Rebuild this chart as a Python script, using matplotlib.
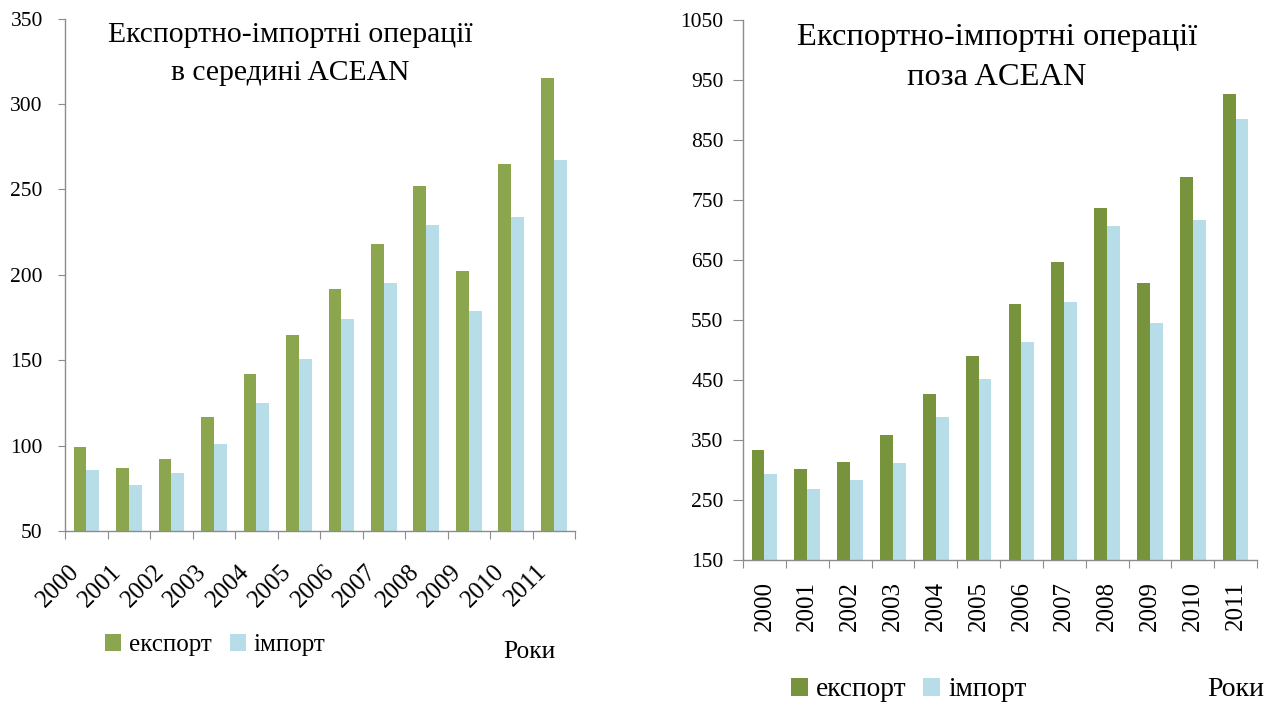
import matplotlib
matplotlib.use('Agg')
import matplotlib.pyplot as plt
from matplotlib.patches import Patch
import numpy as np

# ---- data ----
years = ['2000', '2001', '2002', '2003', '2004', '2005',
         '2006', '2007', '2008', '2009', '2010', '2011']
inside_export = [99, 87, 92, 117, 142, 165, 192, 218, 252, 202, 265, 315]
inside_import = [86, 77, 84, 101, 125, 151, 174, 195, 229, 179, 234, 267]
outside_export = [333, 301, 314, 358, 427, 490, 577, 647, 736, 612, 788, 927]
outside_import = [293, 269, 283, 311, 388, 452, 513, 580, 707, 545, 716, 885]
left_yticks = [50, 100, 150, 200, 250, 300, 350]
right_yticks = [150, 250, 350, 450, 550, 650, 750, 850, 950, 1050]
series_names = ['експорт', 'імпорт']
left_title = ['Експортно-імпортні операції', 'в середині ACEAN']
right_title = ['Експортно-імпортні операції', 'поза ACEAN']
axis_label = 'Роки'

FONT = 'Liberation Serif'
plt.rcParams['font.family'] = [FONT, 'DejaVu Serif']

W, H = 1269, 704
fig = plt.figure(figsize=(W / 100, H / 100), dpi=100)
fig.patch.set_facecolor('white')

IMPORT_C = '#B7DEE8'
SPINE_C = '#8C8C8C'


def px(x, y):
    return x / W, 1 - y / H


def make_axes(rect, exp, imp, ylim, yticks, exp_color, rot, xpad, ylpad, yticklen,
              fs_y, fs_x, lab_shift):
    ax = fig.add_axes(rect)
    x = np.arange(len(years))
    ax.bar(x - 0.15, exp, width=0.30, color=exp_color, zorder=2)
    ax.bar(x + 0.15, imp, width=0.30, color=IMPORT_C, zorder=2)
    ax.set_xlim(-0.5, len(years) - 0.5)
    ax.set_ylim(*ylim)
    ax.set_yticks(yticks)
    ax.set_yticklabels([str(v) for v in yticks], fontsize=fs_y)
    ax.set_xticks(np.arange(-0.5, len(years), 1.0))
    ax.set_xticklabels([])
    ax.set_xticks(x + lab_shift, minor=True)
    ax.set_xticklabels(years, minor=True, fontsize=fs_x)
    for s in ['top', 'right']:
        ax.spines[s].set_visible(False)
    for s in ['left', 'bottom']:
        ax.spines[s].set_color(SPINE_C)
        ax.spines[s].set_linewidth(1.0)
    ax.tick_params(axis='y', which='major', direction='out', length=yticklen,
                   color=SPINE_C, pad=ylpad, labelcolor='black')
    ax.tick_params(axis='x', which='major', direction='out', length=6, color=SPINE_C)
    ax.tick_params(axis='x', which='minor', length=0, pad=xpad)
    for lab in ax.get_xticklabels(minor=True):
        if rot == 45:
            lab.set_rotation(45)
            lab.set_ha('right')
            lab.set_va('center')
            lab.set_rotation_mode('anchor')
        else:
            lab.set_rotation(90)
            lab.set_ha('center')
            lab.set_va('top')
    return ax


# left chart
l0, b0 = px(65, 531)
l1, b1 = px(575, 18.7)
axL = make_axes([l0, b0, l1 - l0, b1 - b0], inside_export, inside_import,
                (50, 350), left_yticks, '#8BA64E', 45, 27, 11, 5, 15.5, 18, -0.25)

# right chart
r0, c0 = px(743, 560)
r1, c1 = px(1257, 20)
axR = make_axes([r0, c0, r1 - r0, c1 - c0], outside_export, outside_import,
                (150, 1050), right_yticks, '#77933C', 90, 15, 7, 7, 15.5, 18, 0.0)

# titles
fig.text(*px(290, 42), left_title[0], ha='center', va='baseline', fontsize=21.3)
fig.text(*px(290, 80), left_title[1], ha='center', va='baseline', fontsize=21.3)
fig.text(*px(997, 45), right_title[0], ha='center', va='baseline', fontsize=23.4)
fig.text(*px(997, 85), right_title[1], ha='center', va='baseline', fontsize=23.4)

# legends
handles_L = [Patch(facecolor='#8BA64E', label=series_names[0]),
             Patch(facecolor=IMPORT_C, label=series_names[1])]
handles_R = [Patch(facecolor='#77933C', label=series_names[0]),
             Patch(facecolor=IMPORT_C, label=series_names[1])]
fig.legend(handles=handles_L, loc='center left', bbox_to_anchor=px(105, 645),
           ncol=2, frameon=False, fontsize=18, handlelength=0.65, handleheight=0.65,
           handletextpad=0.3, columnspacing=0.72, borderpad=0, borderaxespad=0)
fig.legend(handles=handles_R, loc='center left', bbox_to_anchor=px(791, 690),
           ncol=2, frameon=False, fontsize=19.7, handlelength=0.62, handleheight=0.62,
           handletextpad=0.3, columnspacing=0.6, borderpad=0, borderaxespad=0)

fig.text(*px(503, 652), axis_label, ha='left', va='center', fontsize=18.4)
fig.text(*px(1207, 690), axis_label, ha='left', va='center', fontsize=20)

fig.savefig('out.png', dpi=100, facecolor='white')
